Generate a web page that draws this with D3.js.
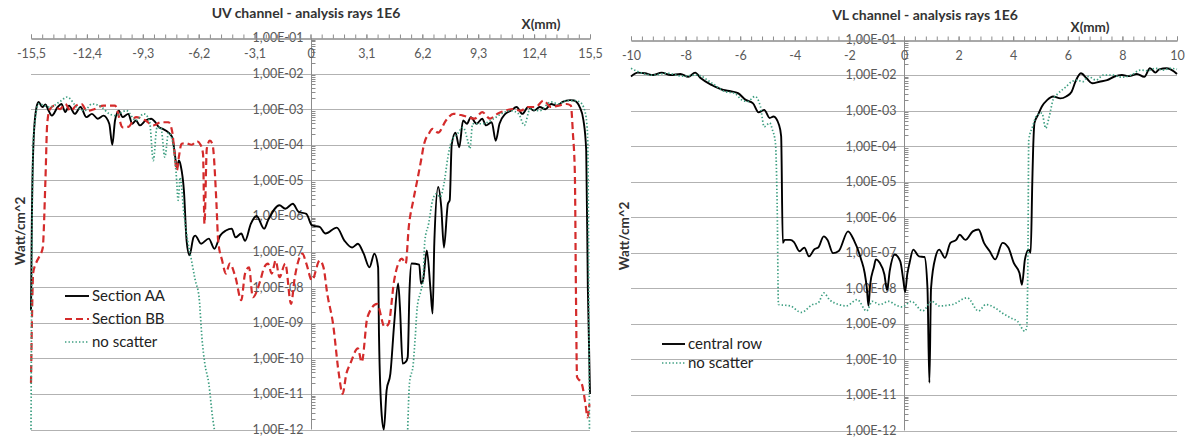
<!DOCTYPE html>
<html><head><meta charset="utf-8">
<script src="https://cdn.jsdelivr.net/npm/d3@7/dist/d3.min.js"></script>
<style>
body{margin:0;background:#fff}
svg{display:block}
text{font-family:Lato,"Open Sans",sans-serif}
</style>
</head><body>
<svg id="chart" width="1186" height="438"></svg>
<script>
// ---------- tick labels / categories ----------
const uvXTicks = [-15.5,-12.4,-9.3,-6.2,-3.1,0,3.1,6.2,9.3,12.4,15.5];
const vlXTicks = [-10,-8,-6,-4,-2,0,2,4,6,8,10];
const yTicks = [1e-1,1e-2,1e-3,1e-4,1e-5,1e-6,1e-7,1e-8,1e-9,1e-10,1e-11,1e-12];

// ---------- UV channel series: [X(mm), Watt/cm^2] ----------
const uvSectionAA = [
[-15.5,2.2e-9],[-15.45,1e-6],[-15.35,1.6e-4],[-15.2,1.1e-3],[-15.08,1.6e-3],[-14.87,1.15e-3],[-14.7,1.35e-3],
[-14.56,1.0e-3],[-14.34,6.6e-4],[-14.02,1.15e-3],[-13.81,1.4e-3],[-13.6,8.3e-4],[-13.39,1.26e-3],[-13.07,7.4e-4],
[-12.75,1.15e-3],[-12.43,6.0e-4],[-12.12,7.4e-4],[-11.8,5.4e-4],[-11.48,6.6e-4],[-11.16,3.9e-4],[-10.99,1.0e-4],
[-10.84,4.8e-4],[-10.63,9.1e-4],[-10.42,6.0e-4],[-10.1,7.4e-4],[-9.89,3.9e-4],[-9.68,4.8e-4],[-9.46,3.5e-4],
[-9.15,4.8e-4],[-8.83,5.4e-4],[-8.61,4.3e-4],[-8.4,3.1e-4],[-8.19,2.8e-4],[-7.87,2.2e-4],[-7.66,1.6e-4],
[-7.55,6.9e-5],[-7.4,2.3e-5],[-7.3,3.6e-5],[-7.19,2.5e-5],[-7.02,5.2e-6],[-6.87,2.0e-7],[-6.71,7.8e-8],
[-6.49,2.5e-7],[-6.39,2.8e-7],[-6.07,1.66e-7],[-5.64,2.3e-7],[-5.33,1.2e-7],[-5.01,2.8e-7],[-4.69,3.9e-7],
[-4.37,4.4e-7],[-4.16,2.5e-7],[-3.84,3.2e-7],[-3.63,2.0e-7],[-3.31,6.0e-7],[-2.99,1.0e-6],[-2.57,4.4e-7],
[-2.36,7.4e-7],[-1.72,2.0e-6],[-1.4,1.6e-6],[-0.98,2.2e-6],[-0.66,1.3e-6],[-0.23,1.15e-6],[0.08,5.4e-7],
[0.51,4.9e-7],[0.83,3.2e-7],[1.46,4.7e-7],[1.89,2.0e-7],[2.31,1.3e-7],[2.63,1.66e-7],[2.95,8.7e-8],
[3.27,3.6e-8],[3.54,8.7e-8],[3.75,3.6e-8],[3.8,4.0e-10],[3.95,2.5e-12],[4.07,1.0e-12],[4.22,1.26e-11],
[4.43,3.7e-11],[4.64,9.3e-10],[4.86,1.26e-8],[4.96,2.75e-9],[5.11,7.1e-11],[5.28,7.9e-11],[5.39,1.07e-10],
[5.49,7.9e-9],[5.6,4.6e-8],[6.03,4.3e-8],[6.13,1.26e-8],[6.24,1.55e-8],[6.45,1.07e-7],[6.66,7.9e-9],
[6.77,1.8e-9],[6.87,2.0e-7],[7.08,6.5e-6],[7.25,1.8e-6],[7.4,1.3e-7],[7.62,2.2e-6],[7.72,2.75e-6],
[7.83,1.0e-4],[8.04,2.2e-4],[8.25,8.5e-5],[8.46,4.8e-4],[8.68,3.9e-4],[8.89,6.0e-4],[9.21,3.9e-4],
[9.52,5.4e-4],[9.74,3.5e-4],[10.05,4.3e-4],[10.27,1.3e-4],[10.48,3.9e-4],[10.8,7.4e-4],[11.11,9.1e-4],
[11.43,1.15e-3],[11.75,7.4e-4],[12.07,1.15e-3],[12.39,9.1e-4],[12.71,1.15e-3],[13.03,1.0e-3],[13.34,1.4e-3],
[13.66,1.26e-3],[13.98,1.6e-3],[14.4,1.8e-3],[14.61,1.75e-3],[14.93,1.15e-3],[15.14,4.8e-4],[15.29,6.9e-5],
[15.38,1.0e-8],[15.5,1.0e-11]
];
const uvSectionBB = [
[-15.5,2.0e-11],[-15.45,1e-9],[-15.38,2.5e-8],[-15.2,5.0e-8],[-15.0,7.9e-8],[-14.85,1.26e-7],[-14.7,1e-5],
[-14.6,4.0e-4],[-14.45,1e-3],[-14.2,1.26e-3],[-13.9,1e-3],[-13.6,1.4e-3],[-13.3,8.9e-4],[-13.0,1.26e-3],
[-12.7,1.4e-3],[-12.4,8.9e-4],[-12.0,1e-3],[-11.48,1.26e-3],[-10.84,1.26e-3],[-10.42,3.1e-4],[-10.1,3.2e-4],
[-9.68,6.0e-4],[-9.15,4.8e-4],[-8.72,3.5e-4],[-8.3,4.3e-4],[-7.87,4.3e-4],[-7.66,2.2e-4],[-7.55,6.3e-5],
[-7.41,1.9e-5],[-7.3,4.5e-5],[-7.15,1.07e-4],[-6.9,1.1e-4],[-6.6,1e-4],[-6.3,1.26e-4],[-6.1,1e-4],
[-5.96,5.6e-5],[-5.88,6.0e-7],[-5.75,7.9e-5],[-5.58,1.3e-4],[-5.43,1e-4],[-5.22,2.5e-6],[-5.12,2.0e-7],
[-4.9,5.6e-8],[-4.69,2.4e-8],[-4.48,4.6e-8],[-4.16,1.9e-8],[-3.84,4.3e-9],[-3.63,2.4e-8],[-3.41,3.6e-8],
[-3.2,5.2e-9],[-2.78,1.55e-8],[-2.57,3.6e-8],[-2.36,4.6e-8],[-2.15,2.4e-8],[-1.93,5.6e-8],[-1.72,1.9e-8],
[-1.4,4.6e-8],[-1.08,3.4e-9],[-0.87,1.9e-8],[-0.45,8.7e-8],[-0.23,4.6e-8],[0.08,1.55e-8],[0.51,5.6e-8],
[0.72,3.6e-8],[0.93,6.5e-9],[1.25,9.3e-10],[1.57,3.7e-11],[1.78,1.0e-11],[1.99,3.7e-11],[2.21,7.1e-11],
[2.63,1.9e-10],[2.84,7.8e-11],[3.16,1.45e-9],[3.69,3.4e-9],[4.11,7.6e-10],[4.33,9.3e-10],[4.64,1.55e-8],
[5.07,6.3e-8],[5.28,4.6e-8],[5.45,4.9e-7],[5.7,2.75e-6],[5.92,1.0e-5],[6.13,3.6e-5],[6.3,1.07e-4],
[6.55,2.0e-4],[6.77,2.8e-4],[7.08,2.2e-4],[7.51,4.8e-4],[7.93,7.4e-4],[8.46,6.6e-4],[9.1,5.4e-4],
[9.52,8.3e-4],[9.95,5.4e-4],[10.37,7.4e-4],[10.8,9.1e-4],[11.22,1.0e-3],[11.65,9.1e-4],[12.07,1.15e-3],
[12.49,1.15e-3],[12.92,1.75e-3],[13.34,1.15e-3],[13.76,1.26e-3],[14.19,1.4e-3],[14.44,1.26e-3],
[14.55,2.2e-4],[14.66,1.55e-5],[14.72,7.9e-9],[14.78,3.0e-11],[15.04,1.95e-11],[15.25,5.2e-12],
[15.36,2.2e-12],[15.47,5.2e-12]
];
const uvNoScatterLeft = [
[-15.5,1e-12],[-15.45,1e-7],[-15.38,1e-4],[-15.25,6.0e-4],[-15.08,1.4e-3],[-14.45,1.15e-3],[-13.92,1.6e-3],
[-13.49,2.2e-3],[-12.96,1.15e-3],[-12.54,9.1e-4],[-12.12,1.4e-3],[-11.59,1.15e-3],[-11.16,7.4e-4],
[-10.84,6.6e-4],[-10.21,9.1e-4],[-9.68,4.8e-4],[-9.25,7.4e-4],[-8.93,4.8e-4],[-8.72,3.6e-5],[-8.51,3.1e-4],
[-8.3,3.1e-4],[-8.08,4.5e-5],[-7.87,2.2e-4],[-7.66,1.3e-4],[-7.45,1.55e-5],[-7.34,2.75e-6],[-7.23,1.2e-5],
[-7.02,1.15e-6],[-6.81,2.0e-7],[-6.6,5.6e-8],[-6.39,1.55e-8],[-6.18,5.2e-9],[-6.01,3.2e-10],[-5.86,7.1e-11],
[-5.64,1.95e-11],[-5.43,2.2e-12],[-5.33,1e-12]
];
const uvNoScatterRight = [
[5.39,1e-12],[5.49,2.0e-11],[5.7,7.1e-11],[5.81,4.0e-10],[5.92,2.75e-9],[6.13,8.1e-9],[6.24,1.55e-8],
[6.34,2.0e-7],[6.55,6.0e-7],[6.77,2.75e-6],[6.98,4.2e-6],[7.19,3.4e-6],[7.4,7.9e-6],[7.62,4.5e-5],
[7.83,1.3e-4],[8.14,2.0e-4],[8.46,3.1e-4],[8.72,1.3e-4],[8.84,7.8e-5],[8.99,3.9e-4],[9.52,3.9e-4],
[10.16,5.4e-4],[10.58,7.4e-4],[11.11,9.1e-4],[11.54,7.4e-4],[11.86,3.5e-4],[12.17,1.0e-3],[12.71,9.1e-4],
[13.34,1.6e-3],[13.76,1.4e-3],[14.19,1.75e-3],[14.61,1.75e-3],[14.93,1.6e-3],[15.21,9.1e-4],[15.36,2.2e-4],
[15.47,1e-12]
];

// ---------- VL channel series ----------
const vlCentralRow = [
[-10.0,9.1e-3],[-9.75,1.17e-2],[-9.49,1.12e-2],[-9.2,1.0e-2],[-8.88,1.17e-2],[-8.55,1.0e-2],[-8.19,1.07e-2],
[-7.9,8.9e-3],[-7.65,1.17e-2],[-7.44,8.1e-3],[-7.03,5.2e-3],[-6.62,3.8e-3],[-6.35,3.5e-3],[-6.08,3.1e-3],
[-5.8,2.0e-3],[-5.53,1.6e-3],[-5.33,8.9e-4],[-5.12,1.05e-3],[-4.92,6.2e-4],[-4.78,6.8e-4],[-4.58,4.0e-4],
[-4.5,1.9e-4],[-4.44,1.9e-7],[-4.37,2.3e-7],[-4.17,2.3e-7],[-4.03,2.0e-7],[-3.83,1.1e-7],[-3.65,1.4e-7],
[-3.48,7.9e-8],[-3.28,1.26e-7],[-3.14,1.4e-7],[-2.94,2.9e-7],[-2.8,2.3e-7],[-2.6,9.8e-8],[-2.39,1.12e-7],
[-2.05,4.0e-7],[-1.84,2.3e-7],[-1.57,6.5e-8],[-1.44,2.7e-8],[-1.36,1e-8],[-1.3,3.2e-9],[-1.24,1.26e-8],
[-1.1,4.0e-8],[-1.03,6.5e-8],[-0.89,5.2e-8],[-0.72,2.5e-8],[-0.62,8.9e-9],[-0.52,3.2e-8],[-0.34,8.9e-8],
[-0.14,5.8e-8],[-0.02,1.6e-8],[0.04,7.9e-9],[0.12,2.5e-8],[0.2,5.0e-8],[0.34,1.23e-7],[0.55,7.9e-8],
[0.75,7.6e-8],[0.86,1e-8],[0.93,2.2e-11],[0.99,1e-8],[1.16,7.9e-8],[1.29,1.23e-7],[1.5,7.2e-8],
[1.7,1.9e-7],[1.91,2.3e-7],[2.04,3.2e-7],[2.25,2.3e-7],[2.52,4.0e-7],[2.73,4.5e-7],[2.93,1.9e-7],
[3.14,1.1e-7],[3.34,6.5e-8],[3.61,1.9e-7],[3.82,1.4e-7],[4.03,5.0e-8],[4.23,2.7e-8],[4.32,1.26e-8],
[4.43,6.5e-8],[4.57,1.23e-7],[4.64,1.0e-7],[4.7,1e-5],[4.73,7.9e-5],[4.78,4.5e-4],[4.91,7.6e-4],
[5.05,1.3e-3],[5.25,2.0e-3],[5.46,2.5e-3],[5.73,2.2e-3],[5.94,2.5e-3],[6.14,3.4e-3],[6.28,6.5e-3],
[6.48,1.12e-2],[6.69,8.1e-3],[6.89,5.9e-3],[7.16,6.5e-3],[7.44,7.2e-3],[7.71,9.1e-3],[7.98,1.0e-2],
[8.25,9.3e-3],[8.53,1.07e-2],[8.8,8.9e-3],[9.01,1.55e-2],[9.21,1.17e-2],[9.35,1.45e-2],[9.62,1.55e-2],
[9.89,1.26e-2],[10.0,1.07e-2]
];
const vlNoScatter = [
[-10.0,1.55e-2],[-9.76,1.26e-2],[-9.21,1.0e-2],[-8.67,1.12e-2],[-8.12,9.3e-3],[-7.58,1.0e-2],[-7.03,5.9e-3],
[-6.55,3.4e-3],[-6.21,3.1e-3],[-5.94,2.0e-3],[-5.73,1.8e-3],[-5.46,2.5e-3],[-5.26,1.3e-3],[-5.12,3.5e-4],
[-4.92,4.5e-4],[-4.82,2.9e-4],[-4.71,1.23e-4],[-4.64,1e-6],[-4.6,3.5e-9],[-4.17,3.2e-9],[-3.76,2.1e-9],
[-3.35,3.5e-9],[-3.14,3.9e-9],[-2.94,7.4e-9],[-2.73,4.8e-9],[-2.39,3.5e-9],[-2.12,3.2e-9],[-1.71,4.8e-9],
[-1.37,2.3e-9],[-1.16,4.3e-9],[-0.89,3.5e-9],[-0.55,4.3e-9],[-0.34,3.5e-9],[-0.07,3.0e-9],[0.27,4.3e-9],
[0.68,2.3e-9],[1.02,4.3e-9],[1.29,3.2e-9],[1.77,3.5e-9],[2.32,5.4e-9],[2.73,2.3e-9],[3.0,3.5e-9],
[3.34,2.8e-9],[3.61,2.0e-9],[3.89,1.5e-9],[4.16,1.17e-9],[4.43,6.2e-10],[4.5,8.5e-10],[4.54,1e-7],
[4.57,1.5e-4],[4.71,3.5e-4],[4.84,6.8e-4],[5.05,8.5e-4],[5.19,3.2e-4],[5.32,6.8e-4],[5.46,2.0e-3],
[5.66,3.1e-3],[5.94,4.7e-3],[6.14,6.5e-3],[6.35,7.2e-3],[6.55,6.5e-3],[6.75,9.1e-3],[7.03,7.2e-3],
[7.3,1.0e-2],[7.64,1.0e-2],[7.98,8.7e-3],[8.32,1.0e-2],[8.67,1.38e-2],[8.94,1.32e-2],[9.21,1.55e-2],
[9.48,1.38e-2],[9.76,1.55e-2],[10.0,1.45e-2]
];

// ---------- drawing ----------
const svg = d3.select("#chart");
const GRID = "#b2b2b2", AXIS = "#8c8c8c", LABEL = "#595959";
const styles = {
  solid:  {stroke:"#000", width:1.9, dash:null},
  dashed: {stroke:"#d42b2b", width:2.2, dash:"7,4"},
  dotted: {stroke:"#3c9e80", width:1.7, dash:"1.4,2.1"}
};
const fmtX = d => String(d).replace(".", ",");
const fmtY = d => { const e = Math.round(Math.log10(d)); return "1,00E-" + String(-e).padStart(2,"0"); };

function panel(cfg){
  const x = d3.scaleLinear().domain(cfg.xDomain).range(cfg.xRange);
  const y = d3.scaleLog().domain([1e-12,1e-1]).range([cfg.yBottom, cfg.yTop]);
  const g = svg.append("g");
  const [xl, xr] = cfg.xRange;
  const px = v => Math.round(v) + 0.5;

  // horizontal gridlines
  g.append("g").selectAll("line").data(yTicks.slice(1)).join("line")
    .attr("x1", xl).attr("x2", xr)
    .attr("y1", d => px(y(d))).attr("y2", d => px(y(d)))
    .attr("stroke", GRID).attr("stroke-width", 1);

  // vertical value axis at X = 0
  const x0 = px(x(0));
  g.append("line").attr("x1", x0).attr("x2", x0).attr("y1", y(1e-1)).attr("y2", y(1e-12))
    .attr("stroke", AXIS).attr("stroke-width", 1);
  const minor = [];
  for (let e = -12; e < -1; e++) for (let m = 2; m <= 9; m++) minor.push(m * Math.pow(10, e));
  g.append("g").selectAll("line").data(minor).join("line")
    .attr("x1", x0).attr("x2", x0 + 4)
    .attr("y1", d => px(y(d))).attr("y2", d => px(y(d)))
    .attr("stroke", AXIS).attr("stroke-width", 1);
  g.append("g").selectAll("text").data(yTicks).join("text")
    .attr("x", x0 - 8).attr("y", d => y(d)).attr("dy", "0.35em")
    .attr("text-anchor", "end").attr("font-size", 12.5).attr("fill", LABEL)
    .text(fmtY);

  // horizontal X axis at top (value 1E-01)
  const axY = px(y(1e-1));
  const minorX = d3.range(0, Math.round((cfg.xDomain[1]-cfg.xDomain[0])/cfg.minorStep) + 1)
      .map(i => +(cfg.xDomain[0] + i*cfg.minorStep).toFixed(3));
  const axMinor = g.append("g").attr("transform", `translate(0,${axY})`)
    .call(d3.axisBottom(x).tickValues(minorX).tickFormat("").tickSizeInner(-4).tickSizeOuter(0));
  const axMajor = g.append("g").attr("transform", `translate(0,${axY})`)
    .call(d3.axisBottom(x).tickValues(cfg.xTicks).tickFormat(fmtX).tickSizeInner(-4).tickSizeOuter(0).tickPadding(11));
  [axMinor, axMajor].forEach(a => {
    a.select(".domain").attr("stroke", AXIS);
    a.selectAll(".tick line").attr("stroke", AXIS);
    a.selectAll(".tick text").attr("fill", LABEL).attr("font-size", 12.5)
      .attr("font-family", "Lato, 'Open Sans', sans-serif");
  });

  // series
  const line = d3.line().x(d => x(d[0])).y(d => y(d[1])).curve(d3.curveMonotoneX);
  cfg.series.forEach(s => {
    const st = styles[s.style];
    g.append("path").datum(s.data).attr("d", line).attr("fill", "none")
      .attr("stroke", st.stroke).attr("stroke-width", st.width)
      .attr("stroke-dasharray", st.dash).attr("stroke-linejoin", "round");
  });

  // titles
  g.append("text").attr("x", cfg.titlePos[0]).attr("y", cfg.titlePos[1]).attr("dy","0.35em")
    .attr("text-anchor","middle").attr("font-size",14).attr("font-weight","bold").attr("fill","#333")
    .text(cfg.title);
  g.append("text").attr("x", cfg.xTitlePos[0]).attr("y", cfg.xTitlePos[1]).attr("dy","0.35em")
    .attr("text-anchor","middle").attr("font-size",13.5).attr("font-weight","bold").attr("fill","#333")
    .text("X(mm)");
  g.append("text").attr("transform", `translate(${cfg.yTitlePos[0]},${cfg.yTitlePos[1]}) rotate(-90)`)
    .attr("dy","0.35em").attr("text-anchor","middle").attr("font-size",13.5).attr("font-weight","bold").attr("fill","#333")
    .text("Watt/cm^2");

  // legend
  cfg.legend.rows.forEach((r, i) => {
    const st = styles[r.style];
    const ly = cfg.legend.y[i];
    g.append("line").attr("x1", cfg.legend.x0).attr("x2", cfg.legend.x1).attr("y1", ly).attr("y2", ly)
      .attr("stroke", st.stroke).attr("stroke-width", st.width).attr("stroke-dasharray", st.dash);
    g.append("text").attr("x", cfg.legend.x1 + 3).attr("y", ly).attr("dy","0.35em")
      .attr("font-size", 15).attr("fill","#222").text(r.label);
  });
}

panel({
  xDomain:[-15.5,15.5], xRange:[31,590], yTop:38, yBottom:429.5,
  xTicks: uvXTicks, minorStep:0.62,
  title:"UV channel - analysis rays 1E6", titlePos:[306,13], xTitlePos:[541,24], yTitlePos:[20,231],
  series:[
    {data:uvSectionAA, style:"solid"},
    {data:uvSectionBB, style:"dashed"},
    {data:uvNoScatterLeft, style:"dotted"},
    {data:uvNoScatterRight, style:"dotted"}
  ],
  legend:{x0:65, x1:89, y:[296,319,342], rows:[
    {label:"Section AA", style:"solid"},
    {label:"Section BB", style:"dashed"},
    {label:"no scatter", style:"dotted"}]}
});

panel({
  xDomain:[-10,10], xRange:[631,1177], yTop:39.5, yBottom:430.5,
  xTicks: vlXTicks, minorStep:0.4,
  title:"VL channel - analysis rays 1E6", titlePos:[925,15], xTitlePos:[1090,27], yTitlePos:[624,236],
  series:[
    {data:vlCentralRow, style:"solid"},
    {data:vlNoScatter, style:"dotted"}
  ],
  legend:{x0:662, x1:685, y:[344,363], rows:[
    {label:"central row", style:"solid"},
    {label:"no scatter", style:"dotted"}]}
});
</script>
</body></html>
